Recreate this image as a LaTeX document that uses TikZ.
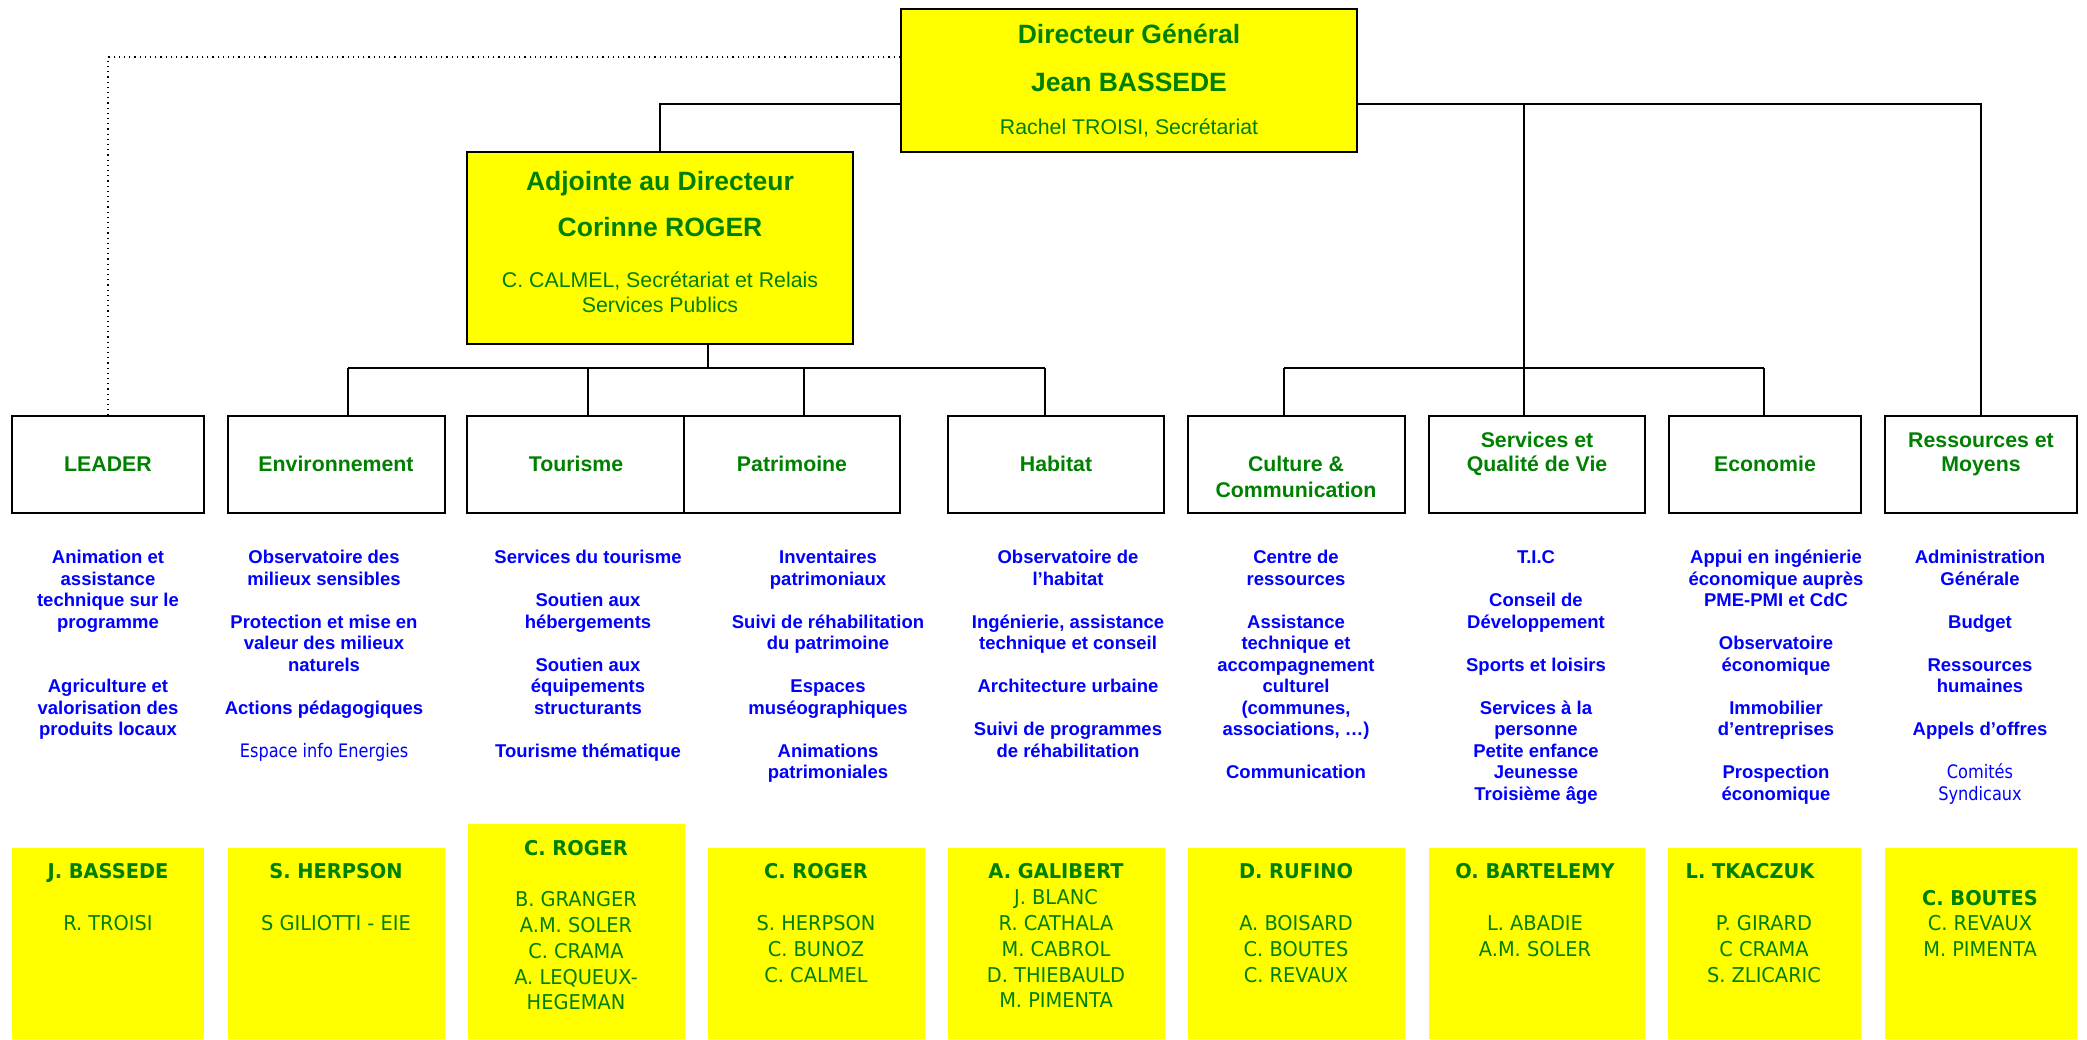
\documentclass[tikz,border=0pt]{standalone}
\usepackage{fontspec}
\setmainfont{Liberation Sans}
\newfontfamily\tah[FakeStretch=0.95]{DejaVu Sans}
\newfontfamily\tahl[FakeStretch=0.87]{DejaVu Sans}
\usetikzlibrary{fit}
\definecolor{ygreen}{RGB}{0,128,0}
\definecolor{yblue}{RGB}{0,0,255}
\definecolor{yyel}{RGB}{255,255,0}
\begin{document}
\begin{tikzpicture}[x=0.5pt,y=-0.5pt,
 box/.style={draw=black, line width=1.1pt, fill=yyel, inner sep=0pt},
 dbox/.style={draw=black, line width=1.1pt, fill=white, inner sep=0pt},
 pbox/.style={fill=yyel, inner sep=0pt},
 conn/.style={line width=0.8pt},
 dotline/.style={line width=0.6pt, dotted},
 big/.style={font=\fontsize{13.25}{15}\selectfont\bfseries, text=ygreen, anchor=base, inner sep=0pt},
 sub/.style={font=\fontsize{10.65}{12}\selectfont, text=ygreen, anchor=base, inner sep=0pt},
 dtitle/.style={font=\fontsize{10.65}{12}\selectfont\bfseries, text=ygreen, anchor=base, inner sep=0pt},
 desc/.style={font=\fontsize{9.25}{11}\selectfont\bfseries, text=yblue, anchor=base, inner sep=0pt},
 descl/.style={font=\tahl\fontsize{9.3}{11}\selectfont, text=yblue, anchor=base, inner sep=0pt},
 pb/.style={font=\tah\fontsize{10.2}{12}\selectfont\bfseries, text=ygreen, anchor=base, inner sep=0pt},
 pn/.style={font=\tah\fontsize{10.2}{12}\selectfont, text=ygreen, anchor=base, inner sep=0pt},
]
\useasboundingbox (0,0) rectangle (2087,1039);
\fill[white] (0,0) rectangle (2087,1039);

% main boxes
\node[box, fit={(901,9)(1357,152)}] (dg) {};
\node[box, fit={(467,152)(853,344)}] (adj) {};

% department boxes
\node[dbox, fit={(12,416)(204,513)}] (leader) {};
\node[dbox, fit={(228,416)(445,513)}] (env) {};
\node[dbox, fit={(467,416)(684,513)}] (tour) {};
\node[dbox, fit={(684,416)(900,513)}] (patr) {};
\node[dbox, fit={(948,416)(1164,513)}] (hab) {};
\node[dbox, fit={(1188,416)(1405,513)}] (cult) {};
\node[dbox, fit={(1429,416)(1645,513)}] (serv) {};
\node[dbox, fit={(1669,416)(1861,513)}] (eco) {};
\node[dbox, fit={(1885,416)(2077,513)}] (ress) {};

% people boxes
\node[pbox, fit={(12,848)(204,1039)}] (p1) {};
\node[pbox, fit={(228,848)(445,1039)}] (p2) {};
\node[pbox, fit={(468,824)(685,1039)}] (p3) {};
\node[pbox, fit={(708,848)(925,1039)}] (p4) {};
\node[pbox, fit={(948,848)(1165,1039)}] (p5) {};
\node[pbox, fit={(1188,848)(1405,1039)}] (p6) {};
\node[pbox, fit={(1429,848)(1645,1039)}] (p7) {};
\node[pbox, fit={(1668,848)(1861,1039)}] (p8) {};
\node[pbox, fit={(1885,848)(2077,1039)}] (p9) {};

% connectors
\coordinate (dotY) at (0,57);
\coordinate (topY) at (0,104);
\draw[dotline] (dg.west |- dotY) -| (leader.north);
\draw[conn] (dg.west |- topY) -| (adj.north);
\draw[conn] (dg.east |- topY) -| (ress.north);
\coordinate (jR) at (1524,104);
\coordinate (bR) at (1524,368);
\coordinate (bRl) at (1284,368);
\coordinate (bRr) at (1764,368);
\draw[conn] (jR) -- (jR |- serv.north);
\draw[conn] (bRl) -- (bRr);
\draw[conn] (bRl) -- (bRl |- cult.north);
\draw[conn] (bRr) -- (bRr |- eco.north);
\coordinate (bL) at (708,368);
\coordinate (bLa) at (348,368);
\coordinate (bLb) at (588,368);
\coordinate (bLc) at (804,368);
\coordinate (bLd) at (1045,368);
\draw[conn] (bL |- adj.south) -- (bL);
\draw[conn] (bLa) -- (bLd);
\draw[conn] (bLa) -- (bLa |- env.north);
\draw[conn] (bLb) -- (bLb |- tour.north);
\draw[conn] (bLc) -- (bLc |- patr.north);
\draw[conn] (bLd) -- (bLd |- hab.north);

% top texts
\node[big] (dg1) at (1129,43) {Directeur Général};
\node[big] (dg2) at (1129,91) {Jean BASSEDE};
\node[sub] (dg3) at (1129,134) {Rachel TROISI, Secrétariat};
\node[big] (ad1) at (660,190) {Adjointe au Directeur};
\node[big] (ad2) at (660,236) {Corinne ROGER};
\node[sub] (ad3) at (660,287.5) {C. CALMEL, Secrétariat et Relais};
\node[sub] (ad4) at (660,312.5) {Services Publics};

% department titles
\node[dtitle] (tl1) at (108,471.5) {LEADER};
\node[dtitle] (tl2) at (336,471.5) {Environnement};
\node[dtitle] (tl3) at (576,471.5) {Tourisme};
\node[dtitle] (tl4) at (792,471.5) {Patrimoine};
\node[dtitle] (tl5) at (1056,471.5) {Habitat};
\node[dtitle] (tl6a) at (1296,471.5) {Culture \&};
\node[dtitle] (tl6b) at (1296,497.5) {Communication};
\node[dtitle] (tl7a) at (1537,447.5) {Services et};
\node[dtitle] (tl7b) at (1537,471.5) {Qualité de Vie};
\node[dtitle] (tl8) at (1765,471.5) {Economie};
\node[dtitle] (tl9a) at (1981,447.5) {Ressources et};
\node[dtitle] (tl9b) at (1981,471.5) {Moyens};

% descriptions
\foreach \k/\t [count=\i] in {0/Animation et,1/assistance,2/technique sur le,3/programme,6/Agriculture et,7/valorisation des,8/produits locaux}
  \node[desc] (da\i) at (108,{563.5+21.5*\k}) {\t};
\foreach \k/\t [count=\i] in {0/Observatoire des,1/milieux sensibles,3/Protection et mise en,4/valeur des milieux,5/naturels,7/Actions pédagogiques}
  \node[desc] (db\i) at (324,{563.5+21.5*\k}) {\t};
\node[descl] (db9) at (324,{563.5+21.5*9}) {Espace info Energies};
\foreach \k/\t [count=\i] in {0/Services du tourisme,2/Soutien aux,3/hébergements,5/Soutien aux,6/équipements,7/structurants,9/Tourisme thématique}
  \node[desc] (dc\i) at (588,{563.5+21.5*\k}) {\t};
\foreach \k/\t [count=\i] in {0/Inventaires,1/patrimoniaux,3/Suivi de réhabilitation,4/du patrimoine,6/Espaces,7/muséographiques,9/Animations,10/patrimoniales}
  \node[desc] (dd\i) at (828,{563.5+21.5*\k}) {\t};
\foreach \k/\t [count=\i] in {0/Observatoire de,1/l’habitat,3/{Ingénierie, assistance},4/technique et conseil,6/Architecture urbaine,8/Suivi de programmes,9/de réhabilitation}
  \node[desc] (de\i) at (1068,{563.5+21.5*\k}) {\t};
\foreach \k/\t [count=\i] in {0/Centre de,1/ressources,3/Assistance,4/technique et,5/accompagnement,6/culturel,7/{(communes,},8/{associations, …)},10/Communication}
  \node[desc] (df\i) at (1296,{563.5+21.5*\k}) {\t};
\foreach \k/\t [count=\i] in {0/T.I.C,2/Conseil de,3/Développement,5/Sports et loisirs,7/Services à la,8/personne,9/Petite enfance,10/Jeunesse,11/Troisième âge}
  \node[desc] (dg\i) at (1536,{563.5+21.5*\k}) {\t};
\foreach \k/\t [count=\i] in {0/Appui en ingénierie,1/économique auprès,2/PME-PMI et CdC,4/Observatoire,5/économique,7/Immobilier,8/d’entreprises,10/Prospection,11/économique}
  \node[desc] (dh\i) at (1776,{563.5+21.5*\k}) {\t};
\foreach \k/\t [count=\i] in {0/Administration,1/Générale,3/Budget,5/Ressources,6/humaines,8/Appels d’offres}
  \node[desc] (di\i) at (1980,{563.5+21.5*\k}) {\t};
\node[descl] (di10) at (1980,{563.5+21.5*10}) {Comités};
\node[descl] (di11) at (1980,{563.5+21.5*11}) {Syndicaux};

% people texts
\node[pb] (q1h) at (108,878.5) {J. BASSEDE};
\node[pn] (q1a) at (108,930.5) {R. TROISI};
\node[pb] (q2h) at (336,878.5) {S. HERPSON};
\node[pn] (q2a) at (336,930.5) {S GILIOTTI - EIE};
\node[pb] (q3h) at (576,855.5) {C. ROGER};
\foreach \yy/\t [count=\i] in {906.5/B. GRANGER,932.5/A.M. SOLER,958.5/C. CRAMA,984.5/A. LEQUEUX-,1009.5/HEGEMAN}
  \node[pn] (q3n\i) at (576,\yy) {\t};
\node[pb] (q4h) at (816,878.5) {C. ROGER};
\foreach \yy/\t [count=\i] in {930.5/S. HERPSON,956.5/C. BUNOZ,982.5/C. CALMEL}
  \node[pn] (q4n\i) at (816,\yy) {\t};
\node[pb] (q5h) at (1056,878.5) {A. GALIBERT};
\foreach \yy/\t [count=\i] in {904.5/J. BLANC,930.5/R. CATHALA,956.5/M. CABROL,982.5/D. THIEBAULD,1007.5/M. PIMENTA}
  \node[pn] (q5n\i) at (1056,\yy) {\t};
\node[pb] (q6h) at (1296,878.5) {D. RUFINO};
\foreach \yy/\t [count=\i] in {930.5/A. BOISARD,956.5/C. BOUTES,982.5/C. REVAUX}
  \node[pn] (q6n\i) at (1296,\yy) {\t};
\node[pb] (q7h) at (1535,878.5) {O. BARTELEMY};
\foreach \yy/\t [count=\i] in {930.5/L. ABADIE,956.5/A.M. SOLER}
  \node[pn] (q7n\i) at (1535,\yy) {\t};
\node[pb] (q8h) at (1750,878.5) {L. TKACZUK};
\foreach \yy/\t [count=\i] in {930.5/P. GIRARD,956.5/C CRAMA,982.5/S. ZLICARIC}
  \node[pn] (q8n\i) at (1764,\yy) {\t};
\node[pb] (q9h) at (1980,905.5) {C. BOUTES};
\foreach \yy/\t [count=\i] in {930.5/C. REVAUX,956.5/M. PIMENTA}
  \node[pn] (q9n\i) at (1980,\yy) {\t};
\end{tikzpicture}
\end{document}
